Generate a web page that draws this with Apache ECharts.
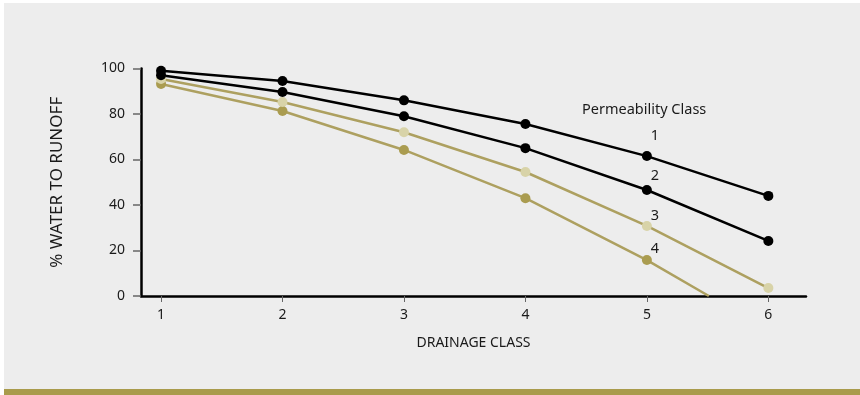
<!DOCTYPE html>
<html><head><meta charset="utf-8">
<script src="https://cdn.jsdelivr.net/npm/echarts@6/dist/echarts.min.js"></script>
<style>html,body{margin:0;padding:0;background:#fff}#c{width:860px;height:395px}</style>
</head><body><div id="c"></div>
<script>
const drainageClasses = [1, 2, 3, 4, 5, 6];
const yTicks = [0, 20, 40, 60, 80, 100];
const perm1 = [99, 94.5, 86, 75.6, 61.5, 44];
const perm2 = [97, 89.7, 79, 65, 46.6, 24.2];
const perm3 = [95.4, 85.3, 72, 54.5, 30.8, 3.5];
const perm4 = [93.2, 81.3, 64.2, 43, 15.8];
const perm4End = [5.51, 0];
const seriesNames = ['1', '2', '3', '4'];
const legendTitle = 'Permeability Class';

const font = '"Noto Sans", sans-serif';
function pts(arr) { return arr.map((v, i) => [drainageClasses[i], v]); }
function mk(name, arr, lineColor, dotColor, labelDy, extra) {
  const data = pts(arr);
  if (extra) data.push({ value: extra, symbol: 'none' });
  data[4] = { value: data[4], label: { show: true, formatter: name, position: 'top', offset: [8, labelDy], color: '#1a1a1a', fontSize: 14.5, fontFamily: font } };
  return {
    type: 'line', name: name, data: data, symbol: 'circle', symbolSize: 10,
    lineStyle: { color: lineColor, width: 2.5 }, itemStyle: { color: dotColor },
    emphasis: { disabled: true }, z: 3
  };
}
const chart = echarts.init(document.getElementById('c'));
chart.setOption({
  animation: false,
  backgroundColor: '#ffffff',
  graphic: [
    { type: 'rect', shape: { x: 4, y: 3, width: 856, height: 386 }, style: { fill: '#ededed' }, z: -10 },
    { type: 'rect', shape: { x: 4, y: 389, width: 856, height: 6 }, style: { fill: '#a99b4c' }, z: -10 },
    { type: 'text', left: 582, top: 102, style: { text: legendTitle, fill: '#1a1a1a', fontSize: 14.5, fontFamily: font } }
  ],
  grid: { left: 141, right: 54, top: 68.5, bottom: 99 },
  xAxis: {
    type: 'value', min: 0.835, max: 6.31,
    name: 'DRAINAGE CLASS', nameLocation: 'middle', nameGap: 40,
    nameTextStyle: { color: '#1a1a1a', fontSize: 14, fontFamily: font },
    axisLine: { show: true, lineStyle: { color: '#000', width: 2.5 } },
    axisTick: { show: true, customValues: drainageClasses, length: 6, lineStyle: { color: '#666', width: 1 } },
    axisLabel: { customValues: drainageClasses, color: '#1a1a1a', fontSize: 14, fontFamily: font, margin: 12 },
    splitLine: { show: false }
  },
  yAxis: {
    type: 'value', min: 0, max: 100, interval: 20,
    name: '% WATER TO RUNOFF', nameLocation: 'middle', nameGap: 75, nameRotate: 90,
    nameTextStyle: { color: '#1a1a1a', fontSize: 17, fontFamily: font },
    axisLine: { show: true, lineStyle: { color: '#000', width: 2.5 } },
    axisTick: { show: true, length: 8, lineStyle: { color: '#666', width: 1.5 } },
    axisLabel: { color: '#1a1a1a', fontSize: 14, fontFamily: font, margin: 16 },
    splitLine: { show: false }
  },
  series: [
    mk(seriesNames[3], perm4, '#ada060', '#aa9c50', 6, perm4End),
    mk(seriesNames[2], perm3, '#ada060', '#d8d3a8', 7),
    mk(seriesNames[1], perm2, '#000000', '#000000', 3),
    mk(seriesNames[0], perm1, '#000000', '#000000', -3)
  ]
});
</script></body></html>
